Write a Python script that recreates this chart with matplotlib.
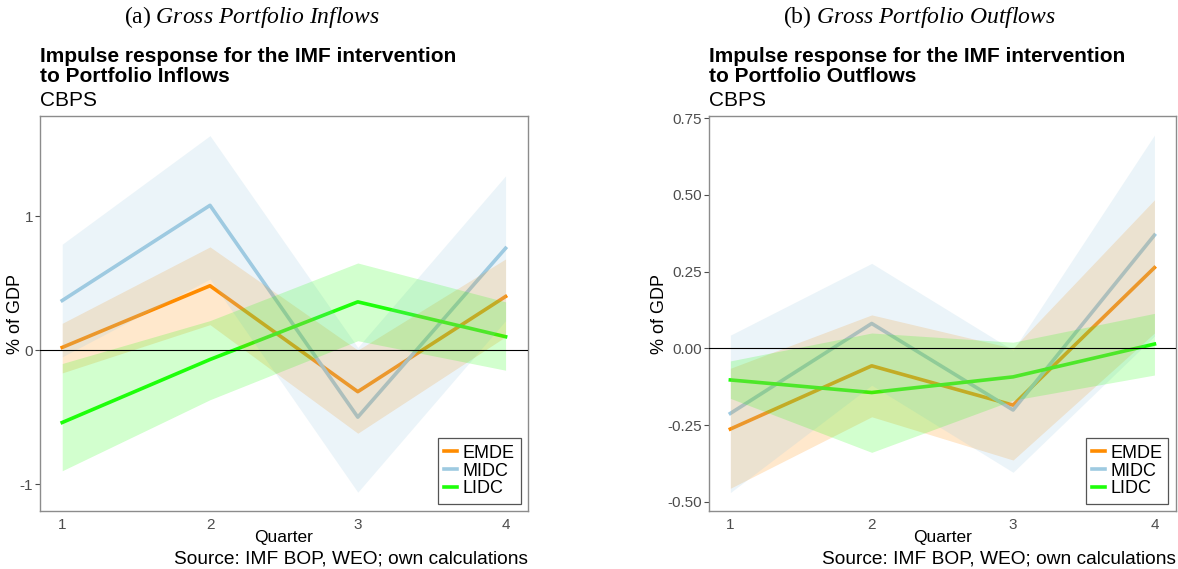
import matplotlib.pyplot as plt
from matplotlib.lines import Line2D

plt.rcParams["font.family"] = ["Liberation Sans", "DejaVu Sans"]
plt.rcParams["mathtext.fontset"] = "custom"
plt.rcParams["mathtext.rm"] = "Liberation Serif"
plt.rcParams["mathtext.it"] = "Liberation Serif:italic"

quarters = [1, 2, 3, 4]
groups = ["EMDE", "MIDC", "LIDC"]
colors = {"EMDE": "#FF8C00", "MIDC": "#9ECAE1", "LIDC": "#1EFF0A"}

# Portfolio inflows: point estimate, lower and upper band
in_emde = [0.02, 0.48, -0.31, 0.40]
in_emde_lo = [-0.17, 0.19, -0.62, 0.10]
in_emde_hi = [0.20, 0.77, 0.00, 0.68]
in_midc = [0.37, 1.08, -0.50, 0.76]
in_midc_lo = [-0.05, 0.53, -1.06, 0.22]
in_midc_hi = [0.79, 1.60, 0.02, 1.30]
in_lidc = [-0.54, -0.07, 0.36, 0.10]
in_lidc_lo = [-0.90, -0.37, 0.07, -0.15]
in_lidc_hi = [-0.10, 0.22, 0.65, 0.36]

# Portfolio outflows
out_emde = [-0.263, -0.057, -0.185, 0.263]
out_emde_lo = [-0.456, -0.223, -0.364, 0.05]
out_emde_hi = [-0.065, 0.109, 0.0, 0.484]
out_midc = [-0.212, 0.081, -0.201, 0.369]
out_midc_lo = [-0.47, -0.12, -0.404, 0.04]
out_midc_hi = [0.043, 0.277, -0.006, 0.695]
out_lidc = [-0.103, -0.144, -0.093, 0.014]
out_lidc_lo = [-0.163, -0.339, -0.169, -0.087]
out_lidc_hi = [-0.041, 0.05, 0.02, 0.114]

in_yticks = [-1, 0, 1]
in_yticklabels = ["-1", "0", "1"]
out_yticks = [-0.5, -0.25, 0.0, 0.25, 0.5, 0.75]
out_yticklabels = ["-0.50", "-0.25", "0.00", "0.25", "0.50", "0.75"]

inflows = {
    "EMDE": (in_emde, in_emde_lo, in_emde_hi),
    "MIDC": (in_midc, in_midc_lo, in_midc_hi),
    "LIDC": (in_lidc, in_lidc_lo, in_lidc_hi),
}
outflows = {
    "EMDE": (out_emde, out_emde_lo, out_emde_hi),
    "MIDC": (out_midc, out_midc_lo, out_midc_hi),
    "LIDC": (out_lidc, out_lidc_lo, out_lidc_hi),
}


def draw_panel(ax, series, ylim, yticks, yticklabels, ylab_x):
    for g in groups:
        est, lo, hi = series[g]
        ax.plot(quarters, est, color=colors[g], linewidth=2.6, zorder=2)
        ax.fill_between(quarters, lo, hi, color=colors[g], alpha=0.2,
                        linewidth=0, zorder=3)
    ax.axhline(0, color="black", linewidth=0.8, zorder=4)

    ax.set_xlim(0.85, 4.15)
    ax.set_ylim(*ylim)
    ax.set_xticks(quarters)
    ax.set_xticklabels([str(q) for q in quarters])
    ax.set_yticks(yticks)
    ax.set_yticklabels(yticklabels)
    ax.tick_params(axis="x", length=0, pad=5, labelsize=11, labelcolor="#4D4D4D")
    ax.tick_params(axis="y", length=3.5, width=0.8, color="#4D4D4D", pad=1.5,
                   labelsize=11, labelcolor="#4D4D4D")
    for sp in ax.spines.values():
        sp.set_color("#8C8C8C")
        sp.set_linewidth(1.0)
    # label positions are given in panel-relative pixels
    ax.set_xlabel("Quarter", fontsize=12.5)
    ax.xaxis.set_label_coords(0.5, -19 / 395, transform=ax.transAxes)
    ax.set_ylabel("% of GDP", fontsize=13)
    ax.yaxis.set_label_coords(ylab_x, 0.5, transform=ax.transAxes)

    handles = [Line2D([0], [0], color=colors[g], linewidth=2.6) for g in groups]
    leg = ax.legend(handles, groups, loc="lower right", fontsize=13,
                    handlelength=0.7, handletextpad=0.3, labelspacing=0.05,
                    borderpad=0.35, fancybox=False, framealpha=1,
                    borderaxespad=0.4)
    leg.get_frame().set_edgecolor("#555555")
    leg.get_frame().set_linewidth(0.9)


fig = plt.figure(figsize=(11.78, 5.69), dpi=100)
ax1 = fig.add_axes([0.034, 0.102, 0.414, 0.694])
ax2 = fig.add_axes([0.602, 0.102, 0.396, 0.694])

draw_panel(ax1, inflows, (-1.2, 1.746), in_yticks, in_yticklabels, -16 / 488)
draw_panel(ax2, outflows, (-0.530, 0.757), out_yticks, out_yticklabels, -41 / 467)

# Sub-figure captions
fig.text(252 / 1178, 1 - 17 / 569,
         r"$\mathrm{(a)}\ \mathit{Gross\ Portfolio\ Inflows}$",
         ha="center", va="center", fontsize=17)
fig.text(920 / 1178, 1 - 17 / 569,
         r"$\mathrm{(b)}\ \mathit{Gross\ Portfolio\ Outflows}$",
         ha="center", va="center", fontsize=17)

# Plot titles
for x0, flow in [(40, "Inflows"), (709, "Outflows")]:
    fig.text(x0 / 1178, 1 - 56 / 569, "Impulse response for the IMF intervention",
             ha="left", va="center", fontsize=15, fontweight="bold")
    fig.text(x0 / 1178, 1 - 77 / 569, f"to Portfolio {flow}",
             ha="left", va="center", fontsize=15, fontweight="bold")
    fig.text(x0 / 1178, 1 - 101 / 569, "CBPS",
             ha="left", va="center", fontsize=15)

# Source notes
fig.text(528 / 1178, 1 - 559 / 569, "Source: IMF BOP, WEO; own calculations",
         ha="right", va="center", fontsize=13.8)
fig.text(1176 / 1178, 1 - 559 / 569, "Source: IMF BOP, WEO; own calculations",
         ha="right", va="center", fontsize=13.8)

fig.savefig("out.png", dpi=100)
